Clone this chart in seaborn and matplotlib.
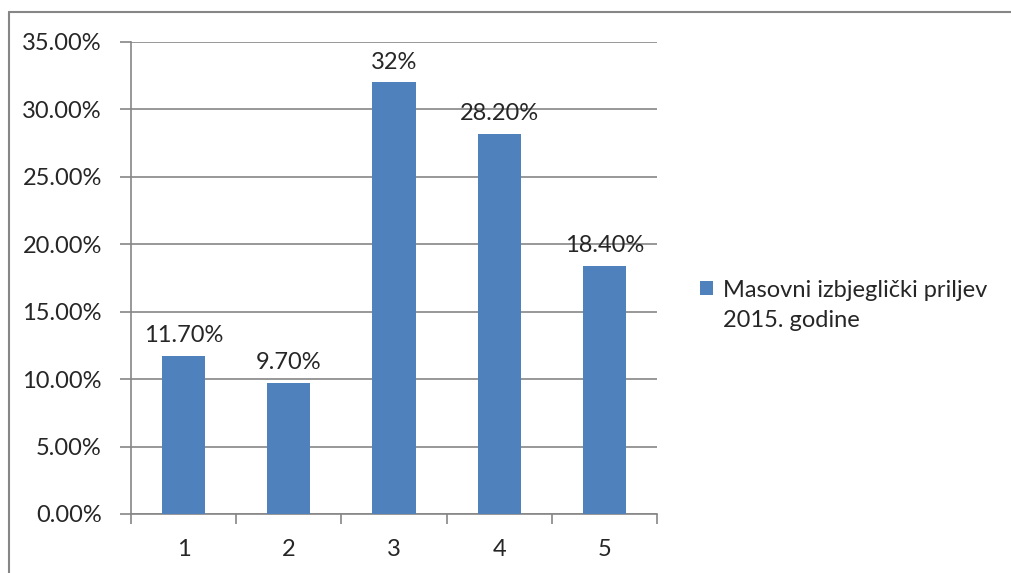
import pandas as pd
import matplotlib.pyplot as plt
import seaborn as sns
from matplotlib.lines import Line2D
from matplotlib.patches import Rectangle
from matplotlib.container import BarContainer
from matplotlib.legend_handler import HandlerPatch
from matplotlib.ticker import FuncFormatter

# Data
categories = ['1', '2', '3', '4', '5']
shares = [0.117, 0.097, 0.32, 0.282, 0.184]
bar_labels = ['11.70%', '9.70%', '32%', '28.20%', '18.40%']
series_name = 'Masovni izbjeglički priljev\n2015. godine'

df = pd.DataFrame({'kategorija': categories, 'udio': shares})

sns.set_style('white')
plt.rcParams['font.family'] = ['Lato', 'DejaVu Sans']

grid_col = '#868686'
bar_col = '#4F81BD'
fs = 17

fig = plt.figure(figsize=(10.11, 5.73), dpi=100)
ax = fig.add_axes([131 / 1011, 59 / 573, 526 / 1011, 472 / 573])

sns.barplot(data=df, x='kategorija', y='udio', color=bar_col, width=0.41,
            saturation=1, linewidth=0, ax=ax, label=series_name, zorder=3)

ax.set_ylim(0, 0.35)
ax.set_yticks([i * 0.05 for i in range(8)])
ax.yaxis.set_major_formatter(FuncFormatter(lambda v, p: f'{v * 100:.2f}%'))
ax.yaxis.grid(True, color=grid_col, linewidth=1.2, zorder=0)
ax.set_xlim(-0.5, 4.5)
ax.set_xlabel('')
ax.set_ylabel('')

for s in ['top', 'right']:
    ax.spines[s].set_visible(False)
for s in ['left', 'bottom']:
    ax.spines[s].set_color(grid_col)
    ax.spines[s].set_linewidth(1.2)

ax.tick_params(axis='y', length=8, width=1.2, color=grid_col, labelsize=fs, pad=13, left=True)
ax.tick_params(axis='x', length=0, labelsize=fs, pad=18)
# category boundary ticks on x axis
ax.set_xticks([i - 0.5 for i in range(6)], minor=True)
ax.tick_params(axis='x', which='minor', length=7, width=1.2, color=grid_col, bottom=True)

for i, lab in enumerate(bar_labels):
    ax.annotate(lab, (i, shares[i]), xytext=(0, 7), textcoords='offset points',
                ha='center', va='bottom', fontsize=fs)


# legend square sits next to the first line of the label
def top_square(legend, orig_handle, xdescent, ydescent, width, height, fontsize):
    return Rectangle((-xdescent, -ydescent + 12.5), width, height)


def from_first_bar(legend_handle, orig_handle):
    legend_handle.update_from(orig_handle.patches[0])


sq = HandlerPatch(patch_func=top_square, update_func=from_first_bar)
leg = ax.legend(loc='center left', bbox_to_anchor=(1.082, 0.442), frameon=False,
                fontsize=fs, handlelength=0.55, handleheight=0.55,
                handletextpad=0.4, borderpad=0, borderaxespad=0,
                handler_map={BarContainer: sq})
leg.get_texts()[0].set_linespacing(1.5)

# outer chart border (left and top edges are visible)
fig.add_artist(Line2D([9 / 1011, 9 / 1011], [0, 1 - 12 / 573],
                      transform=fig.transFigure, color=grid_col, linewidth=1.5))
fig.add_artist(Line2D([9 / 1011, 1], [1 - 12 / 573, 1 - 12 / 573],
                      transform=fig.transFigure, color=grid_col, linewidth=1.5))

fig.savefig('out.png', dpi=100)
